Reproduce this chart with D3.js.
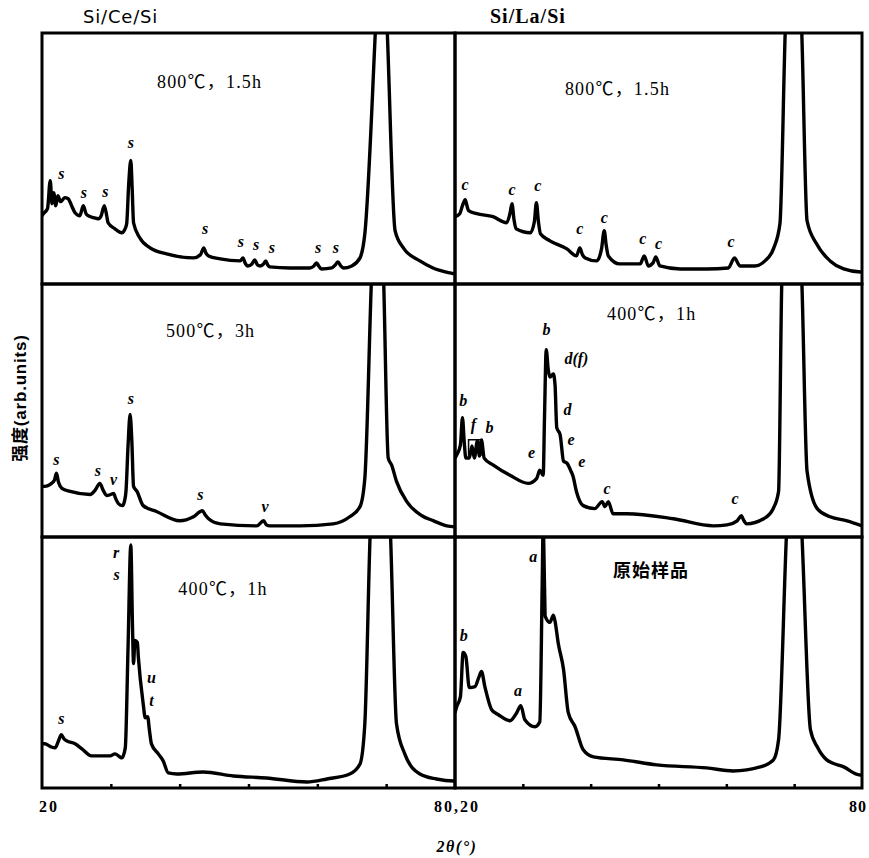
<!DOCTYPE html>
<html>
<head>
<meta charset="utf-8">
<script src="https://cdn.jsdelivr.net/npm/d3@7"></script>
<style>
body { margin: 0; background: #fff; }
text { fill: #000; }
</style>
</head>
<body>
<svg id="chart" width="869" height="858"></svg>
<script>
// XRD traces: [2theta, intensity (arb.)]
var ce800 = [[20.0,68],[20.2,70],[20.8,75],[21.2,103],[21.45,80],[21.7,91],[22.0,78],[22.3,88],[22.7,82],[23.3,86],[23.8,85],[24.3,78],[24.8,71],[25.5,68],[26.0,78],[26.4,70],[26.7,68],[27.5,66],[28.2,65],[28.6,68],[29.05,78],[29.4,68],[29.6,61],[30.6,55],[31.6,51],[32.0,54],[32.3,60],[32.6,100],[32.9,123],[33.1,95],[33.3,61],[34.2,46],[35.7,36],[38.1,30],[42.0,26],[43.0,29],[43.5,36],[43.8,31],[44.2,28],[45.9,25],[48.8,23],[49.2,26],[49.5,21],[49.9,18],[50.5,20],[50.9,24],[51.3,19],[51.7,18],[52.2,20],[52.5,23],[52.8,19],[53.1,17],[56.0,16],[58.9,16],[59.5,18],[59.9,21],[60.2,18],[60.6,15],[62.1,16],[62.6,19],[63.0,22],[63.4,18],[63.8,16],[65.0,18],[66.2,26],[66.9,50],[68.5,262],[69.3,380],[70.1,262],[71.3,53],[72.5,36],[74.9,23],[76.8,16],[79.3,11],[80,10]];
var ce500 = [[20.0,50],[20.4,50],[21.2,52],[21.8,56],[22.1,63],[22.4,54],[22.9,48],[24.1,45],[27.0,42],[27.7,46],[28.4,53],[28.9,46],[29.4,41],[30.0,42],[30.4,43],[30.7,38],[31.1,33],[31.7,31],[32.0,36],[32.2,45],[32.5,90],[32.8,121],[33.05,95],[33.3,50],[33.8,45],[34.7,31],[36.7,25],[40.0,16],[42.0,20],[43.3,26],[43.7,22],[44.2,18],[45.9,13],[51.2,11],[52.2,16],[52.6,12],[53.1,11],[57.5,11],[62.3,13],[64.7,20],[66.2,30],[66.9,58],[67.9,262],[68.75,380],[69.6,262],[70.3,78],[70.8,71],[71.5,55],[73.0,35],[75.2,21],[76.9,16],[78.8,11],[80,10]];
var ce400 = [[20.0,44],[20.4,44],[21.3,41],[21.9,40],[22.4,47],[22.8,53],[23.2,49],[23.6,47],[24.8,44],[25.8,39],[27.2,32],[29.9,32],[30.6,34],[31.3,31],[31.6,30],[32.1,40],[32.5,140],[32.9,242],[33.15,160],[33.3,124],[33.5,147],[33.85,145],[34.0,130],[34.7,84],[35.0,70],[35.35,71],[35.6,58],[35.9,44],[36.9,34],[37.6,27],[38.35,15],[39.6,14],[43.4,16],[47.8,12],[52.6,10],[58.5,6],[61.4,9],[64.7,14],[66.2,24],[66.9,64],[67.7,258],[69.15,380],[70.6,258],[71.5,64],[72.7,34],[74.9,14],[77.3,9],[79.8,7],[80,7]];
var la800 = [[20.0,67],[20.7,70],[21.1,78],[21.5,84],[21.8,77],[22.0,73],[23.2,70],[25.6,67],[27.6,61],[28.1,70],[28.4,80],[28.7,64],[29.0,55],[31.1,51],[31.7,62],[32.0,81],[32.3,62],[32.6,50],[34.0,43],[36.5,35],[37.9,28],[38.4,36],[38.8,29],[39.2,26],[40.9,23],[41.6,35],[42.0,53],[42.3,38],[42.6,28],[44.3,20],[47.3,20],[47.9,28],[48.5,18],[49.2,21],[49.6,27],[50.2,18],[53.2,15],[57.1,15],[60.3,16],[61.2,26],[62.0,18],[64.2,18],[65.7,23],[67.0,36],[67.9,60],[68.7,255],[69.9,380],[71.1,255],[71.9,63],[73.3,40],[75.3,23],[77.3,15],[79.8,12],[80,12]];
var la400 = [[20.0,78],[20.25,81],[20.8,91],[21.1,118],[21.35,95],[21.6,78],[22.1,78],[22.5,90],[22.85,78],[23.3,95],[23.6,80],[23.9,96],[24.3,78],[25.65,71],[28.1,61],[30.8,53],[32.05,58],[32.5,66],[33.0,61],[33.2,120],[33.45,185],[33.75,165],[34.0,158],[34.5,161],[34.75,150],[35.0,108],[35.5,101],[36.0,75],[36.5,73],[37.1,65],[37.4,60],[37.9,45],[38.9,31],[40.6,28],[41.7,35],[42.1,30],[42.6,35],[43.3,23],[45.3,23],[52.2,18],[58.1,11],[60.1,12],[61.6,16],[62.2,21],[62.6,16],[63.0,13],[65.5,18],[66.9,28],[67.7,45],[68.2,258],[69.65,380],[71.1,258],[71.9,65],[73.4,28],[75.3,20],[77.8,16],[80,11]];
var laRaw = [[20.0,75],[20.25,81],[20.8,91],[21.2,135],[21.6,131],[22.1,100],[22.95,101],[23.5,110],[23.9,116],[24.4,101],[25.4,78],[26.4,73],[28.1,67],[29.1,75],[29.7,82],[30.3,68],[31.8,61],[32.5,66],[32.85,200],[33.0,262],[33.2,200],[33.3,171],[34.0,165],[34.5,172],[34.75,166],[35.2,145],[36.0,118],[36.7,75],[37.7,61],[38.9,38],[40.4,31],[44.8,28],[49.75,23],[57.1,20],[61.0,17],[65.0,21],[66.95,28],[67.7,48],[68.9,258],[70.0,380],[71.1,258],[72.4,58],[73.4,41],[74.8,28],[77.3,21],[79.7,13],[80,13]];

// phase letters: [letter, 2theta, intensity]
var ce800Marks = [["s",22.8,110],["s",26.1,91],["s",29.2,92],["s",32.9,141],["s",43.7,55],["s",48.9,42],["s",51.1,39],["s",53.4,36],["s",60.1,36],["s",62.7,36]];
var ce500Marks = [["s",22.1,76],["s",28.1,65],["v",30.4,56],["s",32.9,136],["s",43.0,42],["v",52.4,30]];
var ce400Marks = [["r",30.75,234],["s",30.85,212],["s",22.8,69],["u",35.9,110],["t",35.9,87]];
var la800Marks = [["c",21.5,99],["c",28.4,94],["c",32.2,98],["c",38.4,55],["c",42.0,66],["c",47.7,45],["c",50.0,40],["c",60.7,42]];
var la400Marks = [["b",21.2,135],["f",22.7,111],["b",25.1,108],["e",31.3,83],["b",33.5,205],["d(f)",37.9,176],["d",36.6,126],["e",37.1,96],["e",38.7,74],["c",42.4,48],["c",61.3,38]];
var laRawMarks = [["b",21.3,152],["a",29.3,97],["a",31.55,230]];
var la400Bracket = [[22.0,80],[22.0,96],[24.0,96],[24.0,80]];

var panelLabels = ["800℃，1.5h", "500℃，3h", "400℃，1h", "800℃，1.5h", "400℃，1h", "原始样品"];
var columnTitles = ["Si/Ce/Si", "Si/La/Si"];
var xDomain = [20, 80];
var xTicks = [30, 40, 50, 60, 70];

var svg = d3.select('#chart');
svg.append('rect').attr('width', 869).attr('height', 858).attr('fill', '#fff');

var cols = [[42, 455], [455, 862]];
var rows = [[33, 284], [284, 537], [537, 788]];

var panels = [
    { c: 0, r: 0, data: ce800, marks: ce800Marks, label: panelLabels[0], lx: 36.7, ly: 195 },
    { c: 0, r: 1, data: ce500, marks: ce500Marks, label: panelLabels[1], lx: 38.0, ly: 198 },
    { c: 0, r: 2, data: ce400, marks: ce400Marks, label: panelLabels[2], lx: 39.8, ly: 192 },
    { c: 1, r: 0, data: la800, marks: la800Marks, label: panelLabels[3], lx: 36.2, ly: 188 },
    { c: 1, r: 1, data: la400, marks: la400Marks, label: panelLabels[4], lx: 42.4, ly: 214 },
    { c: 1, r: 2, data: laRaw, marks: laRawMarks, label: panelLabels[5], lx: 43.3, ly: 210, cjk: true }
];

var xScales = cols.map(function (c) { return d3.scaleLinear().domain(xDomain).range(c); });

panels.forEach(function (p, i) {
    var x = xScales[p.c];
    var y = d3.scaleLinear().domain([0, 250]).range([rows[p.r][1], rows[p.r][0]]);
    var g = svg.append('g');

    g.append('clipPath').attr('id', 'clip' + i)
        .append('rect')
        .attr('x', cols[p.c][0]).attr('y', rows[p.r][0])
        .attr('width', cols[p.c][1] - cols[p.c][0])
        .attr('height', rows[p.r][1] - rows[p.r][0]);

    var line = d3.line()
        .x(function (d) { return x(d[0]); })
        .y(function (d) { return y(d[1]); })
        .curve(d3.curveMonotoneX);

    g.append('path')
        .datum(p.data)
        .attr('clip-path', 'url(#clip' + i + ')')
        .attr('d', line)
        .attr('fill', 'none')
        .attr('stroke', '#000')
        .attr('stroke-width', 3.4)
        .attr('stroke-linejoin', 'round');

    if (i === 4) {
        g.append('path')
            .datum(la400Bracket)
            .attr('d', d3.line().x(function (d) { return x(d[0]); }).y(function (d) { return y(d[1]); }))
            .attr('fill', 'none').attr('stroke', '#000').attr('stroke-width', 1.5);
    }

    g.selectAll('.mark')
        .data(p.marks)
        .enter()
        .append('text')
        .attr('class', 'mark')
        .attr('x', function (d) { return x(d[1]); })
        .attr('y', function (d) { return y(d[2]); })
        .attr('dy', '0.32em')
        .attr('text-anchor', 'middle')
        .style('font-family', '"Liberation Serif", serif')
        .style('font-style', 'italic')
        .style('font-weight', 'bold')
        .style('font-size', '16px')
        .text(function (d) { return d[0]; });

    g.append('text')
        .attr('x', x(p.lx))
        .attr('y', y(p.ly))
        .style('font-family', p.cjk ? '"Noto Sans CJK SC", sans-serif' : '"Liberation Serif", "Noto Sans CJK SC", serif')
        .style('font-weight', p.cjk ? 'bold' : 'normal')
        .style('font-size', '18px')
        .style('letter-spacing', p.cjk ? '1px' : '1.2px')
        .text(p.label);

    if (p.r === 2) {
        var ax = g.append('g')
            .attr('transform', 'translate(0,' + rows[2][1] + ')')
            .call(d3.axisBottom(x).tickValues(xTicks).tickSizeInner(-4).tickSizeOuter(0).tickFormat(''));
        ax.select('.domain').remove();
        ax.selectAll('.tick line').attr('stroke', '#000').attr('stroke-width', 2.5);
    }

    g.append('rect')
        .attr('x', cols[p.c][0]).attr('y', rows[p.r][0])
        .attr('width', cols[p.c][1] - cols[p.c][0])
        .attr('height', rows[p.r][1] - rows[p.r][0])
        .attr('fill', 'none')
        .attr('stroke', '#000')
        .attr('stroke-width', 3);
});

// column titles
svg.append('text').attr('x', 83).attr('y', 23)
    .style('font-family', '"DejaVu Sans", sans-serif').style('font-size', '18px')
    .style('letter-spacing', '0.8px').text(columnTitles[0]);
svg.append('text').attr('x', 490).attr('y', 23)
    .style('font-family', '"Liberation Serif", serif').style('font-weight', 'bold').style('font-size', '20px')
    .style('letter-spacing', '1px')
    .text(columnTitles[1]);

// x tick labels
var tickFont = '"Liberation Serif", serif';
function tickLabel(xPos, txt, anchor) {
    svg.append('text').attr('x', xPos).attr('y', 812).attr('text-anchor', anchor || 'middle')
        .style('font-family', tickFont).style('font-weight', 'bold').style('font-size', '16px')
        .style('letter-spacing', anchor === 'end' ? '1px' : '2px').text(txt);
}
tickLabel(xScales[0](20) + 7, '20');
tickLabel(xScales[0](80) + 2, '80,20');
tickLabel(867, '80', 'end');

// axis titles
svg.append('text').attr('x', 457).attr('y', 852).attr('text-anchor', 'middle')
    .style('font-family', tickFont).style('font-weight', 'bold').style('font-style', 'italic').style('font-size', '16px')
    .style('letter-spacing', '1.5px')
    .text('2θ(°)');
svg.append('text')
    .attr('transform', 'translate(26,398) rotate(-90)')
    .attr('text-anchor', 'middle')
    .style('font-family', '"Liberation Sans", "Noto Sans CJK SC", sans-serif')
    .style('font-weight', 'bold').style('font-size', '17px')
    .style('letter-spacing', '0.8px')
    .text('强度(arb.units)');
</script>
</body>
</html>
